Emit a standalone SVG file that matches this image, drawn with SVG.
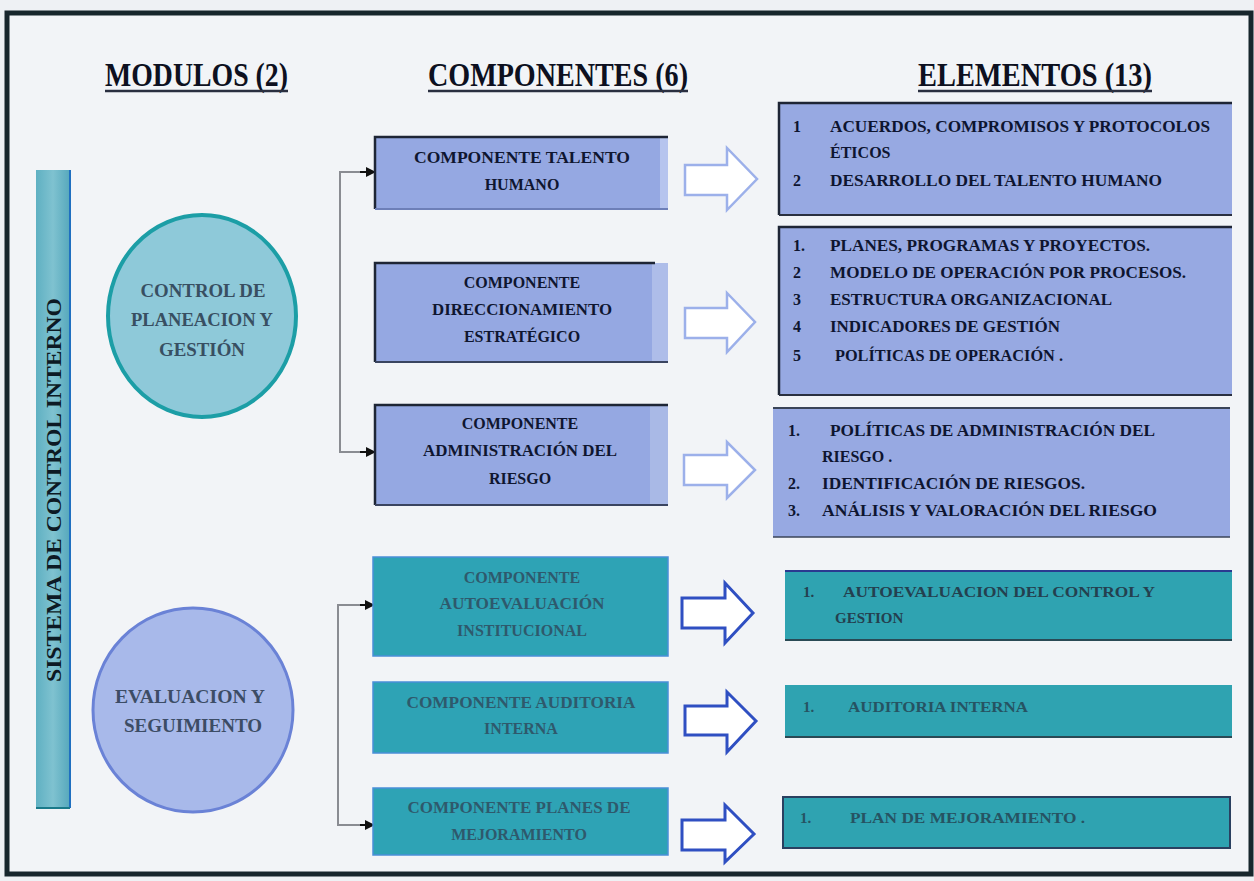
<svg xmlns="http://www.w3.org/2000/svg" width="1254" height="881" viewBox="0 0 1254 881">
<defs>
<style>
.title{font-family:"Liberation Serif",serif;font-weight:bold;font-size:34px;fill:#0d1020}
.ul{stroke:#2a2f40;stroke-width:2.5}
.ct{font-family:"Liberation Serif",serif;font-weight:bold;font-size:16px;fill:#0f1630;text-anchor:middle}
.ctl{font-family:"Liberation Serif",serif;font-weight:bold;font-size:16px;fill:#2f4d60;text-anchor:middle;opacity:0.85}
.mt{font-family:"Liberation Serif",serif;font-weight:bold;font-size:18px;fill:#2a3a4e;text-anchor:middle;opacity:0.85}
.et{font-family:"Liberation Serif",serif;font-weight:bold;font-size:16px;fill:#0e1530}
.etl{font-family:"Liberation Serif",serif;font-weight:bold;font-size:15px;fill:#24404f}
.cbox{fill:#95a8e2}
.tbox{fill:#2ea3b5}
.ebox{fill:#97a9e2}
.etbox{fill:#2fa3b1}
.edge{stroke:#1e2535;stroke-width:2.5;fill:none}
.arrL{fill:#ffffff;stroke:#9cb0ea;stroke-width:2.5;stroke-linejoin:miter}
.arrD{fill:#ffffff;stroke:#2f4fc2;stroke-width:3;stroke-linejoin:miter}
.brk{stroke:#8a8c92;stroke-width:2;fill:none}
</style>
<marker id="tri" markerWidth="10" markerHeight="10" refX="9" refY="5" orient="auto" markerUnits="userSpaceOnUse">
<path d="M0,0 L10,5 L0,10 Z" fill="#111"/>
</marker>
<linearGradient id="barg" x1="0" y1="0" x2="1" y2="0">
<stop offset="0" stop-color="#5fb0c2"/>
<stop offset="0.5" stop-color="#7fc2d0"/>
<stop offset="1" stop-color="#56a8bc"/>
</linearGradient>
</defs>

<rect x="0" y="0" width="1254" height="881" fill="#eef1f4"/>
<rect x="7" y="13" width="1244" height="861" fill="#f2f4f7" stroke="#17262c" stroke-width="5"/>

<g id="titles">
<text class="title" x="105" y="86" textLength="183" lengthAdjust="spacingAndGlyphs">MODULOS (2)</text>
<line class="ul" x1="105" y1="91" x2="288" y2="91"/>
<text class="title" x="428" y="86" textLength="260" lengthAdjust="spacingAndGlyphs">COMPONENTES (6)</text>
<line class="ul" x1="428" y1="91" x2="688" y2="91"/>
<text class="title" x="918" y="86" textLength="234" lengthAdjust="spacingAndGlyphs">ELEMENTOS (13)</text>
<line class="ul" x1="918" y1="91" x2="1152" y2="91"/>
</g>

<g id="sistema">
<rect x="36" y="170" width="34" height="638" fill="url(#barg)"/>
<line x1="70" y1="170" x2="70" y2="808" stroke="#1f6fc0" stroke-width="2"/>
<line x1="36" y1="808" x2="70" y2="808" stroke="#1a7a8a" stroke-width="2"/>
<text transform="translate(61,490) rotate(-90)" text-anchor="middle" font-family="Liberation Serif, serif" font-weight="bold" font-size="22" fill="#0d1a24" textLength="384" lengthAdjust="spacingAndGlyphs">SISTEMA DE CONTROL INTERNO</text>
</g>

<g id="mod-control">
<ellipse cx="202" cy="316" rx="94" ry="101" fill="#8ec9d9" stroke="#1c9ea6" stroke-width="4"/>
<text class="mt" x="203" y="297" textLength="125" lengthAdjust="spacingAndGlyphs">CONTROL DE</text>
<text class="mt" x="202" y="326" textLength="142" lengthAdjust="spacingAndGlyphs">PLANEACION Y</text>
<text class="mt" x="202" y="356" textLength="86" lengthAdjust="spacingAndGlyphs">GESTIÓN</text>
</g>

<g id="mod-evaluacion">
<ellipse cx="193" cy="710" rx="100" ry="102" fill="#a8b9ea" stroke="#6a82d6" stroke-width="3"/>
<text class="mt" x="190" y="703" textLength="150" lengthAdjust="spacingAndGlyphs">EVALUACION Y</text>
<text class="mt" x="193" y="732" textLength="138" lengthAdjust="spacingAndGlyphs">SEGUIMIENTO</text>
</g>

<g id="connectors">
<path class="brk" d="M372,172 L340,172 L340,452 L372,452"/>
<line x1="360" y1="172" x2="375" y2="172" stroke="#111" stroke-width="2" marker-end="url(#tri)"/>
<line x1="360" y1="452" x2="375" y2="452" stroke="#111" stroke-width="2" marker-end="url(#tri)"/>
<path class="brk" d="M372,605 L338,605 L338,825 L372,825"/>
<line x1="360" y1="605" x2="374" y2="605" stroke="#111" stroke-width="2" marker-end="url(#tri)"/>
<line x1="360" y1="825" x2="374" y2="825" stroke="#111" stroke-width="2" marker-end="url(#tri)"/>
<path class="arrL" d="M685,165 L727,165 L727,148 L757,179 L727,210 L727,195 L685,195 Z"/>
<path class="arrL" d="M685,308 L727,308 L727,293 L755,322 L727,352 L727,338 L685,338 Z"/>
<path class="arrL" d="M684,455 L727,455 L727,442 L755,470 L727,498 L727,485 L684,485 Z"/>
<path class="arrD" d="M682,598 L725,598 L725,583 L753,613 L725,643 L725,628 L682,628 Z"/>
<path class="arrD" d="M685,706 L727,706 L727,692 L756,721 L727,752 L727,735 L685,735 Z"/>
<path class="arrD" d="M682,820 L725,820 L725,805 L754,834 L725,862 L725,850 L682,850 Z"/>
</g>

<g id="comp-talento">
<rect class="cbox" x="375" y="137" width="293" height="72"/>
<rect x="660" y="137" width="8" height="72" fill="#b6c4ee"/>
<path class="edge" d="M375,209 L375,137 L668,137"/>
<line x1="375" y1="209" x2="668" y2="209" stroke="#6d7fb8" stroke-width="2"/>
<text class="ct" x="522" y="163" textLength="216" lengthAdjust="spacingAndGlyphs">COMPONENTE TALENTO</text>
<text class="ct" x="522" y="190">HUMANO</text>
</g>

<g id="comp-direccionamiento">
<rect class="cbox" x="375" y="263" width="293" height="99"/>
<rect x="652" y="263" width="16" height="99" fill="#aebde9"/>
<path class="edge" d="M375,362 L375,263 L655,263"/>
<line x1="375" y1="362" x2="668" y2="362" stroke="#3a4460" stroke-width="2"/>
<text class="ct" x="522" y="288">COMPONENTE</text>
<text class="ct" x="522" y="315" textLength="180" lengthAdjust="spacingAndGlyphs">DIRECCIONAMIENTO</text>
<text class="ct" x="522" y="342">ESTRATÉGICO</text>
</g>

<g id="comp-riesgo">
<rect class="cbox" x="375" y="405" width="293" height="100"/>
<rect x="650" y="405" width="18" height="100" fill="#a9b9e6"/>
<path class="edge" d="M375,505 L375,405 L668,405"/>
<line x1="375" y1="505" x2="668" y2="505" stroke="#3a4460" stroke-width="2"/>
<text class="ct" x="520" y="429">COMPONENTE</text>
<text class="ct" x="520" y="456" textLength="194" lengthAdjust="spacingAndGlyphs">ADMINISTRACIÓN DEL</text>
<text class="ct" x="520" y="484">RIESGO</text>
</g>

<g id="comp-autoevaluacion">
<rect class="tbox" x="373" y="557" width="295" height="99" stroke="#4a8fd8" stroke-width="1.5"/>
<text class="ctl" x="522" y="583">COMPONENTE</text>
<text class="ctl" x="522" y="609" textLength="165" lengthAdjust="spacingAndGlyphs">AUTOEVALUACIÓN</text>
<text class="ctl" x="522" y="636">INSTITUCIONAL</text>
</g>

<g id="comp-auditoria">
<rect class="tbox" x="373" y="682" width="295" height="71" stroke="#4a8fd8" stroke-width="1.5"/>
<text class="ctl" x="521" y="708" textLength="229" lengthAdjust="spacingAndGlyphs">COMPONENTE AUDITORIA</text>
<text class="ctl" x="521" y="734">INTERNA</text>
</g>

<g id="comp-planes">
<rect class="tbox" x="373" y="788" width="295" height="67" stroke="#4a8fd8" stroke-width="1.5"/>
<text class="ctl" x="519" y="813" textLength="223" lengthAdjust="spacingAndGlyphs">COMPONENTE PLANES DE</text>
<text class="ctl" x="519" y="840">MEJORAMIENTO</text>
</g>

<g id="elem-talento">
<rect class="ebox" x="779" y="103" width="453" height="112"/>
<path class="edge" d="M779,215 L779,103 L1232,103"/>
<line x1="779" y1="215" x2="1232" y2="215" stroke="#2a3040" stroke-width="2"/>
<text class="et" x="793" y="132">1</text>
<text class="et" x="830" y="132" textLength="380" lengthAdjust="spacingAndGlyphs">ACUERDOS, COMPROMISOS Y PROTOCOLOS</text>
<text class="et" x="830" y="158">ÉTICOS</text>
<text class="et" x="793" y="186">2</text>
<text class="et" x="830" y="186" textLength="332" lengthAdjust="spacingAndGlyphs">DESARROLLO DEL TALENTO HUMANO</text>
</g>

<g id="elem-direccionamiento">
<rect class="ebox" x="779" y="227" width="453" height="168"/>
<path class="edge" d="M779,395 L779,227 L1232,227"/>
<line x1="779" y1="395" x2="1232" y2="395" stroke="#2a3040" stroke-width="2"/>
<text class="et" x="793" y="251">1.</text>
<text class="et" x="830" y="251" textLength="320" lengthAdjust="spacingAndGlyphs">PLANES, PROGRAMAS Y PROYECTOS.</text>
<text class="et" x="793" y="278">2</text>
<text class="et" x="830" y="278" textLength="356" lengthAdjust="spacingAndGlyphs">MODELO DE OPERACIÓN POR PROCESOS.</text>
<text class="et" x="793" y="305">3</text>
<text class="et" x="830" y="305" textLength="282" lengthAdjust="spacingAndGlyphs">ESTRUCTURA ORGANIZACIONAL</text>
<text class="et" x="793" y="332">4</text>
<text class="et" x="830" y="332" textLength="230" lengthAdjust="spacingAndGlyphs">INDICADORES DE GESTIÓN</text>
<text class="et" x="793" y="361">5</text>
<text class="et" x="835" y="361" textLength="228" lengthAdjust="spacingAndGlyphs">POLÍTICAS DE OPERACIÓN .</text>
</g>

<g id="elem-riesgo">
<rect class="ebox" x="773" y="408" width="457" height="129"/>
<line x1="773" y1="408" x2="1230" y2="408" stroke="#3a4458" stroke-width="2"/>
<line x1="773" y1="537" x2="1230" y2="537" stroke="#3a4458" stroke-width="1.5"/>
<text class="et" x="788" y="436">1.</text>
<text class="et" x="830" y="436" textLength="325" lengthAdjust="spacingAndGlyphs">POLÍTICAS DE ADMINISTRACIÓN DEL</text>
<text class="et" x="822" y="462" fill="#4a5a80">RIESGO .</text>
<text class="et" x="788" y="489">2.</text>
<text class="et" x="822" y="489" textLength="263" lengthAdjust="spacingAndGlyphs">IDENTIFICACIÓN DE RIESGOS.</text>
<text class="et" x="788" y="516">3.</text>
<text class="et" x="822" y="516" textLength="335" lengthAdjust="spacingAndGlyphs">ANÁLISIS Y VALORACIÓN DEL RIESGO</text>
</g>

<g id="elem-autoevaluacion">
<rect class="etbox" x="785" y="570" width="447" height="70"/>
<line x1="785" y1="571" x2="1232" y2="571" stroke="#2a3a90" stroke-width="2"/>
<line x1="785" y1="640" x2="1232" y2="640" stroke="#2a4a55" stroke-width="2"/>
<text class="etl" x="803" y="597">1.</text>
<text class="etl" x="843" y="597" textLength="312" lengthAdjust="spacingAndGlyphs">AUTOEVALUACION DEL CONTROL Y</text>
<text class="etl" x="835" y="623">GESTION</text>
</g>

<g id="elem-auditoria">
<rect class="etbox" x="785" y="685" width="447" height="52"/>
<line x1="785" y1="737" x2="1232" y2="737" stroke="#2a4a55" stroke-width="2"/>
<text class="etl" x="803" y="712" opacity="0.8">1.</text>
<text class="etl" x="848" y="712" textLength="180" lengthAdjust="spacingAndGlyphs" opacity="0.8">AUDITORIA INTERNA</text>
</g>

<g id="elem-planes">
<rect class="etbox" x="783" y="797" width="447" height="51" stroke="#2a4060" stroke-width="2"/>
<text class="etl" x="800" y="823" opacity="0.8">1.</text>
<text class="etl" x="850" y="823" textLength="235" lengthAdjust="spacingAndGlyphs" opacity="0.8">PLAN DE MEJORAMIENTO .</text>
</g>
</svg>
